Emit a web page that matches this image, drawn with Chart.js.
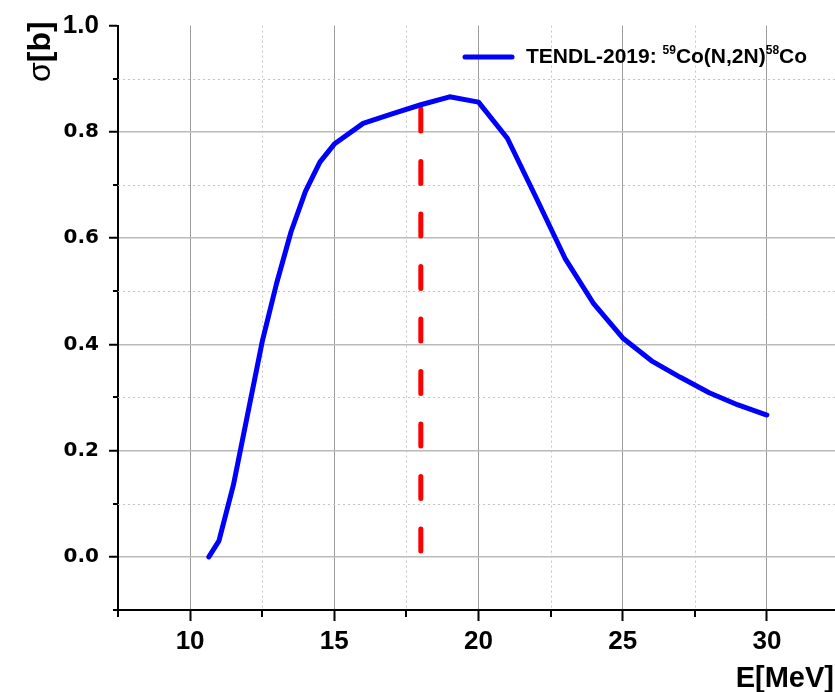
<!DOCTYPE html>
<html>
<head>
<meta charset="utf-8">
<script src="https://cdn.jsdelivr.net/npm/chart.js@4.4.1/dist/chart.umd.min.js"></script>
<style>
  html, body { margin: 0; padding: 0; overflow: hidden; background: #fff; }
  #wrap { width: 835px; height: 692px; overflow: hidden; }
</style>
</head>
<body>
<div id="wrap"><canvas id="xsChart" width="845" height="692"></canvas></div>
<script>
// TENDL-2019 59Co(n,2n)58Co cross section
const energy = [10.65, 11.0, 11.5, 12.0, 12.5, 13.0, 13.5, 14.0, 14.5, 15, 16, 17, 18, 19, 20, 21, 22, 23, 24, 25, 26, 27, 28, 29, 30];
const sigma = [0.0, 0.03, 0.135, 0.27, 0.405, 0.515, 0.612, 0.688, 0.743, 0.777, 0.816, 0.834, 0.851, 0.866, 0.856, 0.788, 0.676, 0.562, 0.476, 0.412, 0.369, 0.338, 0.309, 0.286, 0.267];

// red dashed marker at 18 MeV
const markerEnergy = [18, 18];
const markerSigma = [0.843, 0.01];

// axis ticks
const xTicks = [7.5, 10, 12.5, 15, 17.5, 20, 22.5, 25, 27.5, 30, 32.5];
const xMajor = [10, 15, 20, 25, 30];
const xTickLabels = ['10', '15', '20', '25', '30'];
const yTicks = [-0.1, 0, 0.1, 0.2, 0.3, 0.4, 0.5, 0.6, 0.7, 0.8, 0.9, 1.0];
const yMajor = [0, 0.2, 0.4, 0.6, 0.8, 1.0];
const yTickLabels = ['0.0', '0.2', '0.4', '0.6', '0.8', '1.0'];

const curve = energy.map((e, i) => ({ x: e, y: sigma[i] }));
const marker = markerEnergy.map((e, i) => ({ x: e, y: markerSigma[i] }));

// dotted minor grid + short minor ticks
const minorGrid = {
    id: 'minorGrid',
    beforeDatasetsDraw(chart) {
        const { ctx, chartArea: a, scales: { x, y } } = chart;
        ctx.save();
        ctx.strokeStyle = '#c4c4c4';
        ctx.lineWidth = 1;
        ctx.setLineDash([2, 3]);
        xTicks.forEach(v => {
            if (xMajor.includes(v)) return;
            const px = Math.round(x.getPixelForValue(v)) + 0.5;
            if (px < a.left + 2 || px > a.right - 2) return;
            ctx.beginPath(); ctx.moveTo(px, a.top); ctx.lineTo(px, a.bottom); ctx.stroke();
        });
        yTicks.forEach(v => {
            if (yMajor.includes(v)) return;
            const py = Math.round(y.getPixelForValue(v)) + 0.5;
            if (py < a.top + 2 || py > a.bottom - 2) return;
            ctx.beginPath(); ctx.moveTo(a.left, py); ctx.lineTo(a.right, py); ctx.stroke();
        });
        ctx.setLineDash([]);
        ctx.strokeStyle = '#000';
        ctx.lineWidth = 2;
        xTicks.forEach(v => {
            if (xMajor.includes(v)) return;
            const px = Math.round(x.getPixelForValue(v));
            ctx.beginPath(); ctx.moveTo(px, a.bottom); ctx.lineTo(px, a.bottom + 7); ctx.stroke();
        });
        yTicks.forEach(v => {
            if (yMajor.includes(v)) return;
            const py = Math.round(y.getPixelForValue(v));
            ctx.beginPath(); ctx.moveTo(a.left - 5, py); ctx.lineTo(a.left, py); ctx.stroke();
        });
        ctx.restore();
    }
};

// axis titles and legend (superscripts need manual text runs)
const labels = {
    id: 'labels',
    afterDraw(chart) {
        const ctx = chart.ctx;
        ctx.save();
        ctx.fillStyle = '#000';
        ctx.textBaseline = 'alphabetic';

        // y title
        ctx.save();
        ctx.translate(50, 82);
        ctx.rotate(-Math.PI / 2);
        ctx.textAlign = 'left';
        ctx.font = '32px "Liberation Sans"';
        ctx.fillText('σ', 0, 0);
        const w = ctx.measureText('σ').width;
        ctx.font = 'bold 32px "Liberation Sans"';
        ctx.fillText('[b]', w, 0);
        ctx.restore();

        // x title
        ctx.textAlign = 'right';
        ctx.font = 'bold 29px "Liberation Sans"';
        ctx.fillText('E[MeV]', 834, 687);

        // legend
        ctx.strokeStyle = '#0000ff';
        ctx.lineWidth = 5;
        ctx.lineCap = 'round';
        ctx.beginPath(); ctx.moveTo(465, 57); ctx.lineTo(512, 57); ctx.stroke();

        ctx.textAlign = 'left';
        const big = 'bold 21px "Liberation Sans"';
        const sup = 'bold 12px "Liberation Sans"';
        const runs = [
            ['TENDL-2019: ', big, 0],
            ['59', sup, -9],
            ['Co(N,2N)', big, 0],
            ['58', sup, -9],
            ['Co', big, 0]
        ];
        let tx = 526;
        runs.forEach(([t, f, dy]) => {
            ctx.font = f;
            ctx.fillText(t, tx, 63 + dy);
            tx += ctx.measureText(t).width;
        });
        ctx.restore();
    }
};

new Chart(document.getElementById('xsChart'), {
    type: 'line',
    data: {
        datasets: [
            {
                label: 'TENDL-2019: 59Co(N,2N)58Co',
                data: curve,
                borderColor: '#0000ff',
                borderWidth: 5,
                borderCapStyle: 'round',
                borderJoinStyle: 'round',
                pointRadius: 0,
                tension: 0,
                fill: false
            },
            {
                label: 'E = 18 MeV',
                data: marker,
                borderColor: '#ff0000',
                borderWidth: 5,
                borderDash: [22, 30.5],
                borderCapStyle: 'round',
                pointRadius: 0,
                fill: false
            }
        ]
    },
    options: {
        responsive: false,
        animation: false,
        layout: { padding: { top: 25, right: 6, left: 0, bottom: 0 } },
        plugins: {
            legend: { display: false },
            tooltip: { enabled: false }
        },
        scales: {
            x: {
                type: 'linear',
                min: 7.5,
                max: 32.5,
                afterBuildTicks: s => { s.ticks = xTicks.map(v => ({ value: v })); },
                afterFit: s => { s.height = 82; },
                border: { display: true, color: '#000', width: 2 },
                grid: {
                    color: c => xMajor.includes(c.tick.value) ? '#9c9c9c' : 'transparent',
                    lineWidth: 1,
                    tickColor: c => xMajor.includes(c.tick.value) ? '#000' : 'transparent',
                    tickWidth: 2,
                    tickLength: 11
                },
                ticks: {
                    autoSkip: false,
                    maxRotation: 0,
                    padding: 5,
                    color: '#000',
                    font: { family: '"Liberation Sans", Arial', size: 26, weight: 'bold' },
                    callback: v => {
                        const i = xMajor.indexOf(v);
                        return i >= 0 ? xTickLabels[i] : '';
                    }
                }
            },
            y: {
                type: 'linear',
                min: -0.1,
                max: 1.0,
                afterBuildTicks: s => { s.ticks = yTicks.map(v => ({ value: v })); },
                afterFit: s => { s.width = 118; },
                border: { display: true, color: '#000', width: 2 },
                grid: {
                    color: c => (yMajor.includes(c.tick.value) && c.tick.value !== 1.0) ? '#bababa' : 'transparent',
                    lineWidth: 1.5,
                    tickColor: c => yMajor.includes(c.tick.value) ? '#000' : 'transparent',
                    tickWidth: 2,
                    tickLength: 9
                },
                ticks: {
                    autoSkip: false,
                    padding: 10,
                    color: '#000',
                    font: c => (c.tick && c.tick.value === 1.0)
                        ? { family: '"Liberation Sans", Arial', size: 26, weight: 'bold' }
                        : { family: '"DejaVu Sans"', size: 20, weight: 'bold' },
                    callback: v => {
                        const i = yMajor.indexOf(v);
                        return i >= 0 ? yTickLabels[i] : '';
                    }
                }
            }
        }
    },
    plugins: [minorGrid, labels]
});
</script>
</body>
</html>
